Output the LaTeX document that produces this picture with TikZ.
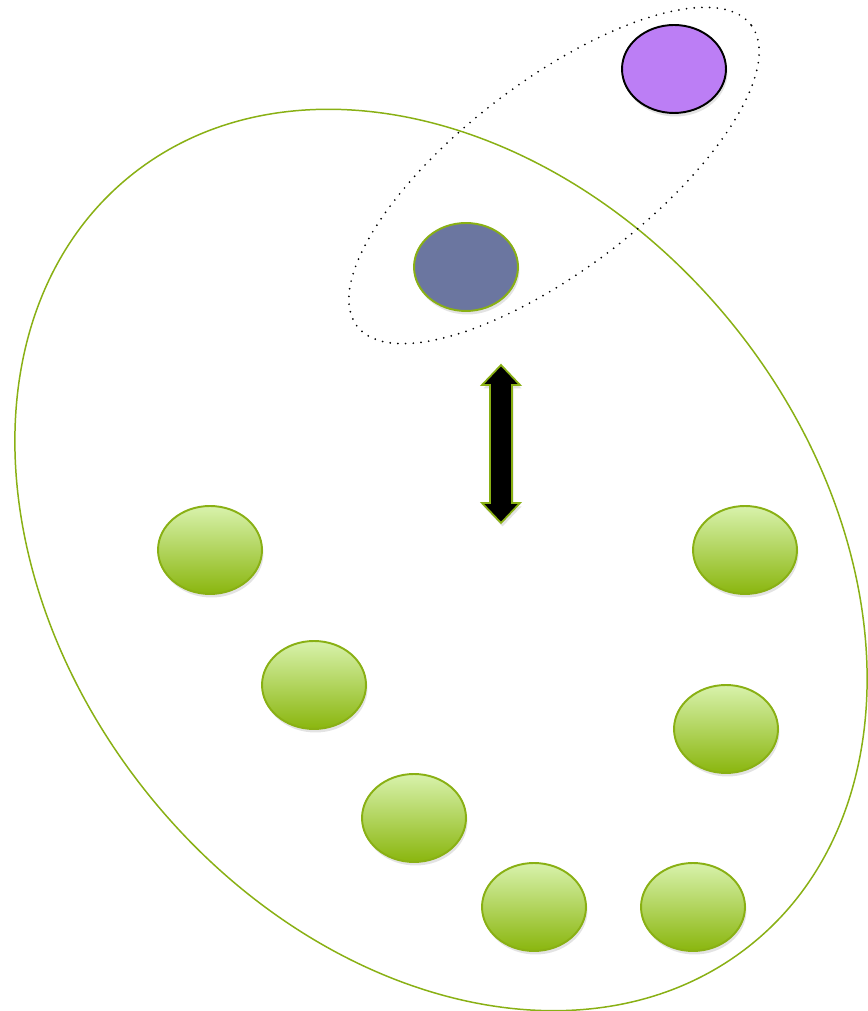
\documentclass[tikz,border=0pt]{standalone}
\usetikzlibrary{shapes.geometric,shadows}
\definecolor{leafline}{RGB}{137,176,20}
\definecolor{leaftop}{RGB}{216,242,172}
\definecolor{leafbot}{RGB}{138,182,14}
\definecolor{slateblue}{RGB}{107,118,160}
\definecolor{lilac}{RGB}{188,126,245}
\tikzset{
  blob/.style={ellipse, minimum width=2.08cm, minimum height=1.76cm, inner sep=0pt,
    line width=1.1pt,
    drop shadow={shadow xshift=0.03cm, shadow yshift=-0.07cm, opacity=0.22}},
  leaf/.style={blob, draw=leafline, top color=leaftop, bottom color=leafbot},
}
\begin{document}
\begin{tikzpicture}[x=0.02cm,y=0.02cm]
  \useasboundingbox (0,0) rectangle (867,1011);
  % outer set and the tilted group
  \draw[leafline, line width=0.85pt, rotate around={-51:(441,451)}] (441,451) ellipse [x radius=494, y radius=375];
  \draw[line width=1.1pt, line cap=round, dash pattern=on 0pt off 4.4pt, rotate around={37.4:(554,835.5)}] (554,835.5) ellipse [x radius=248, y radius=94];
  \node[blob, draw=black, fill=lilac] (top) at (674,942) {};
  \node[blob, draw=leafline, fill=slateblue] (mid) at (466,744) {};
  % two-way arrow
  \filldraw[draw=leafline, fill=black, line width=1pt, line join=miter,
    drop shadow={shadow xshift=0.03cm, shadow yshift=-0.07cm, opacity=0.22}]
    (501,646) -- (520,626) -- (512,626) -- (512,508) -- (520,508) -- (501,488)
    -- (482,508) -- (490,508) -- (490,626) -- (482,626) -- cycle;
  % members
  \node[leaf] (g1) at (210,461) {};
  \node[leaf] (g2) at (314,326) {};
  \node[leaf] (g3) at (414,193) {};
  \node[leaf] (g4) at (534,104) {};
  \node[leaf] (g5) at (693,104) {};
  \node[leaf] (g6) at (726,282) {};
  \node[leaf] (g7) at (745,461) {};
\end{tikzpicture}
\end{document}
